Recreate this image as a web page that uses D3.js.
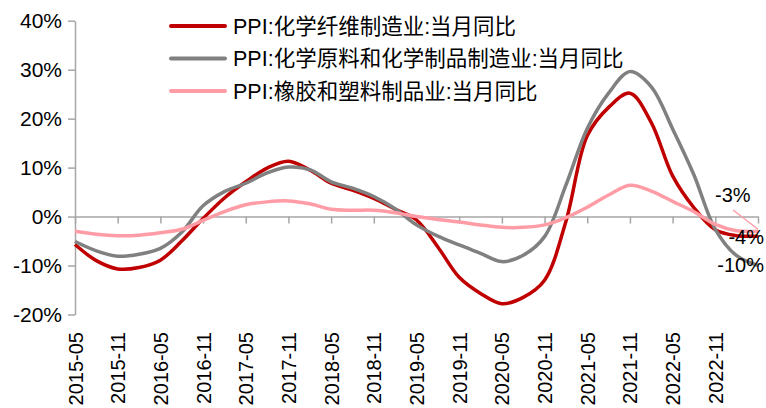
<!DOCTYPE html>
<html>
<head>
<meta charset="utf-8">
<script src="https://cdn.jsdelivr.net/npm/d3@7/dist/d3.min.js"></script>
<style>
  html, body { margin: 0; padding: 0; background: #fff; }
  svg { display: block; }
  text { font-family: "Liberation Sans", Arial, "Noto Sans CJK SC", sans-serif; fill: #000; }
</style>
</head>
<body>
<svg id="chart" width="766" height="408"></svg>
<script>
// Quarterly observations, 2015-05 .. 2023-05
const months = [
  "2015-05","2015-08","2015-11","2016-02","2016-05","2016-08","2016-11","2017-02",
  "2017-05","2017-08","2017-11","2018-02","2018-05","2018-08","2018-11","2019-02",
  "2019-05","2019-08","2019-11","2020-02","2020-05","2020-08","2020-11","2021-02",
  "2021-05","2021-08","2021-11","2022-02","2022-05","2022-08","2022-11","2023-02",
  "2023-05"
];

// PPI year-on-year, %
const chemFiber = [
  -5.7, -9.0, -10.7, -10.4, -8.9, -5.0, -0.4, 3.8,
  7.1, 9.9, 11.3, 9.5, 6.8, 5.4, 3.7, 1.5,
  -0.7, -6.2, -12.4, -15.7, -17.8, -16.5, -13.0, -1.0,
  16.5, 22.3, 25.2, 19.2, 8.3, 1.8, -2.7, -3.9,
  -4
];
const chemMaterials = [
  -5.1, -7.0, -8.1, -7.7, -6.5, -3.2, 2.2, 5.1,
  6.8, 8.9, 10.1, 9.6, 7.1, 5.8, 4.1, 1.6,
  -1.7, -4.0, -5.8, -7.5, -9.2, -7.9, -4.1, 6.4,
  18.0, 25.2, 29.6, 26.5, 17.9, 8.5, -2.6, -8.0,
  -10
];
const rubberPlastic = [
  -3.0, -3.6, -3.9, -3.8, -3.3, -2.6, -0.8, 1.0,
  2.4, 3.0, 3.2, 2.6, 1.5, 1.3, 1.3, 0.8,
  0.0, -0.6, -1.1, -1.7, -2.2, -2.2, -1.7, -0.2,
  1.9, 4.4, 6.4, 5.2, 3.1, 1.0, -1.6, -2.9,
  -3
];

const seriesNames = [
  "PPI:化学纤维制造业:当月同比",
  "PPI:化学原料和化学制品制造业:当月同比",
  "PPI:橡胶和塑料制品业:当月同比"
];
const seriesColors = ["#c00000", "#808080", "#ff9ca5"];

const xTickLabels = [
  "2015-05","2015-11","2016-05","2016-11","2017-05","2017-11","2018-05","2018-11",
  "2019-05","2019-11","2020-05","2020-11","2021-05","2021-11","2022-05","2022-11"
];
const yTicks = [-20, -10, 0, 10, 20, 30, 40];
const endLabels = ["-4%", "-10%", "-3%"];

// month offset from the first observation
const monthIndex = s => {
  const [y, m] = s.split("-").map(Number);
  return (y - 2015) * 12 + (m - 5);
};

const svg = d3.select("#chart");
const axisColor = "#a6a6a6";

const x = d3.scaleLinear()
  .domain([0, monthIndex("2023-05")])
  .range([75, 758]);
const y = d3.scaleLinear()
  .domain([-20, 40])
  .range([314.5, 20.7]);

// y axis
const yAxis = svg.append("g")
  .attr("transform", `translate(${x(0)},0)`)
  .call(d3.axisLeft(y).tickValues(yTicks).tickSize(7).tickSizeOuter(0).tickPadding(6)
    .tickFormat(d => d + "%"));
yAxis.select(".domain").attr("stroke", axisColor).attr("stroke-width", 1.5);
yAxis.selectAll(".tick line").attr("stroke", axisColor).attr("stroke-width", 1.5);
yAxis.selectAll(".tick text").style("font-size", "21px").attr("fill", "#000");

// x axis along the zero line, ticks every six months
const xTickVals = d3.range(0, monthIndex("2023-05") + 1, 6);
const xAxis = svg.append("g")
  .attr("transform", `translate(0,${y(0)})`)
  .call(d3.axisBottom(x).tickValues(xTickVals).tickSize(7).tickSizeOuter(0).tickFormat(""));
xAxis.select(".domain").attr("stroke", axisColor).attr("stroke-width", 1.5);
xAxis.selectAll(".tick line").attr("stroke", axisColor).attr("stroke-width", 1.5);

// rotated date labels at the bottom
svg.append("g").selectAll("text")
  .data(xTickLabels)
  .join("text")
  .attr("transform", d => `translate(${x(monthIndex(d)) + 7.5},332) rotate(-90)`)
  .attr("text-anchor", "end")
  .style("font-size", "20px")
  .text(d => d);

// series lines
const allSeries = [chemFiber, chemMaterials, rubberPlastic];
const line = d3.line()
  .x((d, i) => x(monthIndex(months[i])))
  .y(d => y(d))
  .curve(d3.curveCatmullRom.alpha(0.5));

svg.append("g").selectAll("path")
  .data(allSeries)
  .join("path")
  .attr("fill", "none")
  .attr("stroke", (d, i) => seriesColors[i])
  .attr("stroke-width", 3.5)
  .attr("stroke-linejoin", "round")
  .attr("d", line);

// legend
const legend = svg.append("g");
seriesNames.forEach((name, i) => {
  const ly = 26 + i * 32.5;
  legend.append("line")
    .attr("x1", 171).attr("x2", 225)
    .attr("y1", ly).attr("y2", ly)
    .attr("stroke", seriesColors[i])
    .attr("stroke-width", 4)
    .attr("stroke-linecap", "round");
  legend.append("text")
    .attr("x", 233)
    .attr("y", ly + 7.5)
    .style("font-size", "21.5px")
    .text(name);
});

// latest values
const lastX = x(monthIndex(months[months.length - 1]));
svg.append("line")
  .attr("x1", 733).attr("y1", 210)
  .attr("x2", lastX).attr("y2", y(rubberPlastic[rubberPlastic.length - 1]) - 2)
  .attr("stroke", seriesColors[2])
  .attr("stroke-width", 1.5);
svg.append("text").attr("x", 715).attr("y", 201.5).style("font-size", "20px").text(endLabels[2]);
svg.append("text").attr("x", 764).attr("y", 243.5).attr("text-anchor", "end").style("font-size", "20px").text(endLabels[0]);
svg.append("text").attr("x", 764).attr("y", 271.5).attr("text-anchor", "end").style("font-size", "20px").text(endLabels[1]);
</script>
</body>
</html>
